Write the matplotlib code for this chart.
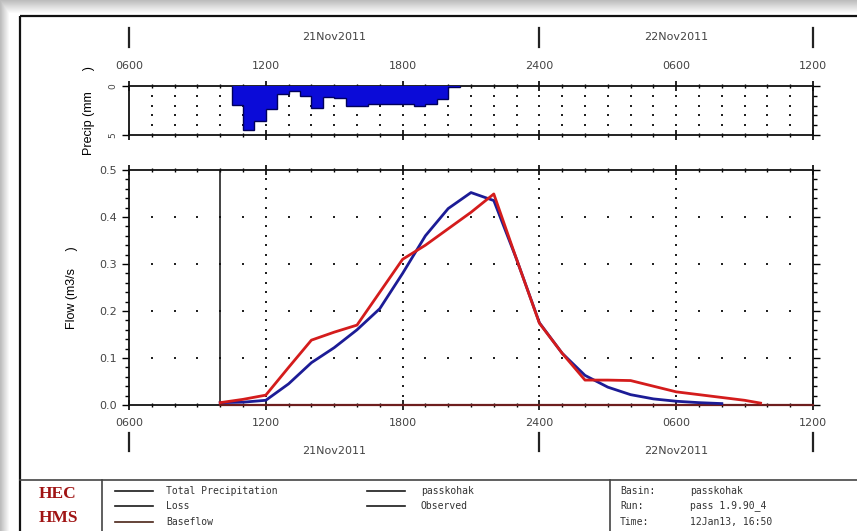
import matplotlib
matplotlib.use("Agg")
import matplotlib.pyplot as plt
import matplotlib.transforms as mtransforms
from matplotlib.lines import Line2D
import numpy as np

# Figure size in pixels (dpi 100).
W, H = 857, 531

# Hyetograph: 30-minute blocks, start time in hours from 21Nov2011 0000.
precip_time = [10.5, 11.0, 11.5, 12.0, 12.5, 13.0, 13.5, 14.0, 14.5, 15.0,
               15.5, 16.0, 16.5, 17.0, 17.5, 18.0, 18.5, 19.0, 19.5, 20.0]
precip_mm = [1.9, 4.45, 3.6, 2.35, 0.8, 0.5, 1.05, 2.25, 1.1, 1.25,
             2.05, 2.05, 1.85, 1.85, 1.85, 1.85, 2.05, 1.85, 1.3, 0.1]

# Simulated outflow (passkohak), m3/s.
sim_time = [10, 11, 12, 13, 14, 15, 16, 17, 18, 19, 20, 21, 22,
            23, 24, 25, 26, 27, 28, 29, 30, 31, 32]
sim_flow = [0.005, 0.006, 0.01, 0.045, 0.09, 0.122, 0.16, 0.205, 0.28, 0.36, 0.418, 0.452, 0.435,
            0.31, 0.175, 0.11, 0.063, 0.038, 0.022, 0.013, 0.008, 0.005, 0.003]

# Observed flow, m3/s.
obs_time = [10, 11, 12, 13, 14, 15, 16, 17, 18, 19, 20, 21, 22,
            23, 24, 25, 26, 27, 28, 29, 30, 31, 32, 33, 33.7]
obs_flow = [0.005, 0.012, 0.021, 0.08, 0.138, 0.155, 0.17, 0.24, 0.31, 0.34, 0.375, 0.41, 0.449,
            0.31, 0.174, 0.11, 0.053, 0.053, 0.052, 0.04, 0.028, 0.022, 0.016, 0.01, 0.004]

# Baseflow stays at zero over the run.
base_time = [10, 36]
base_flow = [0.0, 0.0]

sim_start = 10
time_ticks = [6, 12, 18, 24, 30, 36]
time_labels = ["0600", "1200", "1800", "2400", "0600", "1200"]
day_edges = [6, 24, 36]
day_labels = ["21Nov2011", "22Nov2011"]

legend_left = ["Total Precipitation", "Loss", "Baseflow"]
legend_left_colors = ["#1a1a1a", "#1a1a1a", "#4a2418"]
legend_right = ["passkohak", "Observed"]
legend_right_colors = ["#1a1a1a", "#1a1a1a"]
info_keys = ["Basin:", "Run:", "Time:"]
info_vals = ["passkohak", "pass 1.9.90_4", "12Jan13, 16:50"]


def fx(x):
    return x / W


def fy(y):
    return 1 - y / H


plt.rcParams["font.family"] = ["DejaVu Sans"]
fig = plt.figure(figsize=(W / 100, H / 100), dpi=100, facecolor="white")

# Background: grey drop shadow, frame and legend box, in pixel coords.
bg = fig.add_axes([0, 0, 1, 1], zorder=-10)
bg.set_xlim(0, W)
bg.set_ylim(H, 0)
bg.axis("off")
yy, xx = np.mgrid[0:H, 0:W]
shade = np.minimum(np.clip(0.74 + 0.26 * yy / 13, 0, 1), np.clip(0.74 + 0.26 * xx / 9, 0, 1))
bg.imshow(shade, cmap="gray", vmin=0, vmax=1, extent=(0, W, H, 0), aspect="auto")
frame_kw = dict(color="#111111", lw=1.6, solid_capstyle="butt")
bg.plot([20, W], [16, 16], **frame_kw)
bg.plot([20, 20], [16, H], **frame_kw)
bg.plot([20, W], [480, 480], color="#444444", lw=1.2)
bg.plot([102, 102], [480, H], color="#444444", lw=1.2)
bg.plot([610, 610], [480, H], color="#444444", lw=1.2)

# HEC-HMS logo text
bg.text(58, 494, "HEC", family="Liberation Serif", weight="bold", size=12.5,
        color="#a01414", ha="center", va="center")
bg.text(58, 518, "HMS", family="Liberation Serif", weight="bold", size=12.5,
        color="#a01414", ha="center", va="center")

mono = dict(family="DejaVu Sans Mono", size=7, color="#333333", va="center")
rows_y = [491, 506, 522]
for label, col, y in zip(legend_left, legend_left_colors, rows_y):
    bg.add_line(Line2D([115, 153], [y, y], color=col, lw=1.2))
    bg.text(166, y, label, **mono)
for label, col, y in zip(legend_right, legend_right_colors, rows_y):
    bg.add_line(Line2D([367, 405], [y, y], color=col, lw=1.2))
    bg.text(421, y, label, **mono)
for key, val, y in zip(info_keys, info_vals, rows_y):
    bg.text(620, y, key, **mono)
    bg.text(690, y, val, **mono)

# Axes
ax_p = fig.add_axes([fx(129), fy(135), 684 / W, 49 / H])
ax_f = fig.add_axes([fx(129), fy(405), 684 / W, 235 / H])

for ax in (ax_p, ax_f):
    ax.set_xlim(6, 36)
    ax.set_xticks(time_ticks)
    ax.set_xticks(np.arange(6, 37, 1), minor=True)
    for sp in ax.spines.values():
        sp.set_linewidth(1.3)
        sp.set_color("#111111")
    ax.tick_params(axis="x", which="major", direction="inout", length=7, width=1.2,
                   top=True, bottom=True, labelsize=8, labelcolor="#444444")
    ax.tick_params(axis="x", which="minor", direction="inout", length=3.5, width=1.0,
                   top=True, bottom=True)
    ax.tick_params(axis="y", which="both", direction="out", left=True, right=True,
                   labelsize=8, labelcolor="#444444", width=1.0)
    ax.tick_params(axis="y", which="major", length=5)
    ax.tick_params(axis="y", which="minor", length=3)

# Precipitation panel (inverted)
ax_p.set_ylim(5, 0)
ax_p.set_yticks([0, 5])
ax_p.set_yticklabels(["0", "5"], rotation=90, va="center", size=6.5)
ax_p.set_yticks([1, 2, 3, 4], minor=True)
ax_p.tick_params(axis="y", which="minor", left=False)
ax_p.set_xticklabels(time_labels)
ax_p.tick_params(axis="x", which="both", labeltop=True, labelbottom=False, pad=7)
edges = np.append(precip_time, precip_time[-1] + 0.5)
ax_p.stairs(precip_mm, edges, fill=True, color="#0b0bd8", zorder=3)
ax_p.stairs(precip_mm, edges, color="#00005a", lw=1.0, zorder=4)
hours = np.arange(7, 36)
gx, gy = np.meshgrid(hours, [1, 2, 3, 4])
ax_p.scatter(gx.ravel(), gy.ravel(), s=1.6, marker="s", color="#222222", lw=0, zorder=1)
ax_p.set_ylabel("Precip (mm      )", size=9, family="Liberation Sans")
ax_p.yaxis.set_label_coords(-0.05, 0.5)

# Flow panel
ax_f.set_ylim(0, 0.5)
ax_f.set_yticks(np.arange(0, 0.51, 0.1))
ax_f.set_yticklabels([f"{v:.1f}" for v in np.arange(0, 0.51, 0.1)])
ax_f.set_yticks(np.arange(0, 0.51, 0.02), minor=True)
ax_f.set_xticklabels(time_labels)
ax_f.tick_params(axis="x", which="both", labeltop=False, labelbottom=True, pad=6)
gx, gy = np.meshgrid(hours, [0.1, 0.2, 0.3, 0.4])
ax_f.scatter(gx.ravel(), gy.ravel(), s=1.6, marker="s", color="#222222", lw=0, zorder=1)
vx, vy = np.meshgrid(time_ticks[1:-1], np.arange(0.02, 0.5, 0.02))
ax_f.scatter(vx.ravel(), vy.ravel(), s=1.6, marker="s", color="#222222", lw=0, zorder=1)

ax_f.axvline(sim_start, color="#111111", lw=1.1, zorder=2)
ax_f.plot(base_time, base_flow, color="#6e1e1e", lw=1.6, zorder=3, clip_on=False)
ax_f.plot(sim_time, sim_flow, color="#1c1c96", lw=2.0, zorder=4)
ax_f.plot(obs_time, obs_flow, color="#d41c1c", lw=2.0, zorder=5)
ax_f.set_ylabel("Flow (m3/s     )", size=9, family="Liberation Sans")
ax_f.yaxis.set_label_coords(-0.075, 0.5)

# Date rows above and below the panels
trans = mtransforms.blended_transform_factory(ax_f.transData, fig.transFigure)
for y_txt, y0, y1 in [(37, 28, 47), (451, 433, 451)]:
    for x in day_edges:
        ax_f.add_line(Line2D([x, x], [fy(y0), fy(y1)], transform=trans, color="#222222",
                             lw=1.6, clip_on=False))
    for i, label in enumerate(day_labels):
        xc = (day_edges[i] + day_edges[i + 1]) / 2
        ax_f.text(xc, fy(y_txt), label, transform=trans, ha="center", va="center",
                  size=8, color="#444444")

fig.savefig("out.png", dpi=100, facecolor="white")
